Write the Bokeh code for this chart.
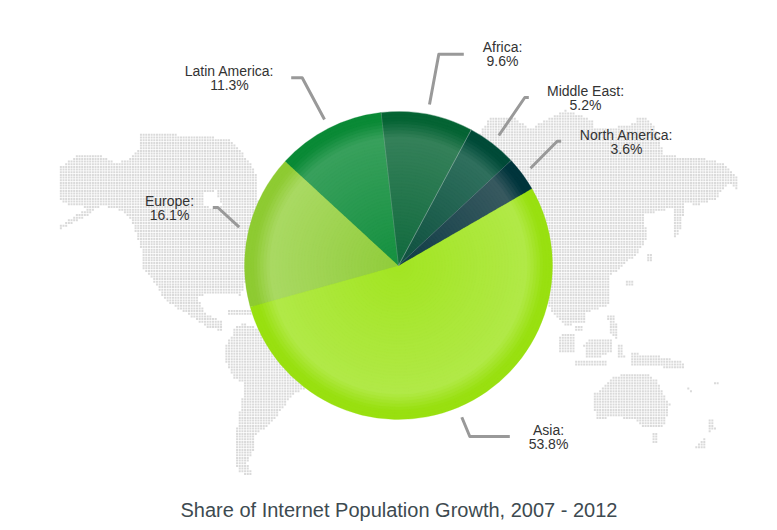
import numpy as np
from bokeh.plotting import figure
from bokeh.models import ColumnDataSource
from bokeh.core.properties import value
from bokeh.embed import file_html
from bokeh.resources import INLINE

# ---- chart values
regions = ["Asia", "Europe", "Latin America", "Africa", "Middle East", "North America"]
shares = [53.8, 16.1, 11.3, 9.6, 5.2, 3.6]
base_colors = ["#a2e521", "#90cc3a", "#14903f", "#116a3e", "#0e503f", "#0f3c46"]
high_colors = ["#b1e947", "#a9d962", "#38a05c", "#348059", "#2f6f5d", "#37595f"]
edge_colors = ["#99e010", "#8ecb32", "#0a8a36", "#056434", "#004b38", "#00353c"]
chart_title = "Share of Internet Population Growth, 2007 - 2012"

# ---- layout (page pixels, y downwards)
PAGE_H = 530
cx, cy, radius = 398, 265, 154
start_deg = 30
label_x = [548, 169, 229, 502, 585, 626]
label_y = [436.5, 207.5, 77.5, 53.5, 97.5, 141.5]
leader_x = [[509.3, 469.3, 461.3], [212.3, 217.3, 238.7], [290.7, 301.7, 324],
            [463.3, 438.3, 429], [528.3, 524.3, 498.3], [560.7, 556.7, 530]]
leader_y = [[436, 436, 416.7], [207, 207, 226.7], [77.3, 77.3, 119],
            [53.7, 53.7, 104], [97, 97, 135], [140.7, 140.7, 167.7]]

# ---- background world map outlines (page pixels)
land = [
    [(59,167),(80,153),(100,155),(117,163),(128,158),(140,147),(139,133),(160,133),(183,135),(227,138),(240,150),
     (255,170),(260,220),(250,270),(240,295),(225,292),(207,292),(197,297),(205,312),(222,322),(222,331),(205,326),
     (193,317),(180,310),(170,303),(160,293),(153,280),(143,270),(140,245),(130,218),(117,208),(100,205),(90,213),
     (60,229),(59,225),(88,207),(70,205),(60,200)],
    [(228,310),(250,309),(250,314),(228,314)],
    [(233,328),(242,323),(258,328),(300,340),(310,385),(302,390),(292,395),(283,407),(275,417),(268,425),(255,435),
     (252,453),(247,463),(253,475),(245,475),(237,470),(234,450),(237,423),(242,397),(243,383),(233,378),(224,357),
     (224,347),(233,333)],
    [(480,130),(490,118),(515,118),(530,128),(545,120),(565,110),(580,115),(592,120),(593,127),(615,127),(633,123),
     (637,118),(647,118),(658,133),(663,153),(683,157),(703,158),(723,163),(738,178),(738,193),(730,183),(723,187),
     (717,198),(697,205),(683,202),(670,208),(643,215),(643,220),(648,235),(637,253),(620,267),(608,277),(608,305),
     (585,312),(585,322),(565,325),(555,315),(547,305),(450,260)],
    [(673,205),(683,203),(682,225),(675,238),(672,236)],
    [(647,252),(653,252),(653,260),(647,260)],
    [(625,280),(632,280),(632,286),(625,286)],
    [(573,326),(583,326),(583,331),(573,331)],
    [(565,332),(573,332),(573,352),(558,352),(558,338)],
    [(607,315),(613,315),(618,330),(616,338),(610,334)],
    [(583,345),(590,338),(613,340),(612,350),(600,357),(586,356)],
    [(575,360),(607,361),(607,365),(575,365)],
    [(617,345),(623,345),(624,357),(618,357)],
    [(630,353),(653,354),(683,362),(683,368),(653,366),(630,365)],
    [(592,395),(608,382),(615,375),(637,373),(648,374),(657,380),(665,397),(670,403),(665,420),(662,427),(643,427),
     (635,420),(613,415),(597,420),(593,405)],
    [(652,433),(658,433),(658,442),(653,442)],
    [(707,418),(712,418),(715,428),(708,434)],
    [(695,445),(703,437),(706,440),(704,447),(696,449)],
    [(687,386),(692,392),(690,393),(686,388)],
    [(713,381),(718,381),(718,383),(713,383)],
]
lakes = [[(203,193),(215,190),(222,205),(212,208),(203,205)]]
DOT_STEP = 2.67


def inside(px, py, poly):
    a = np.array(poly, dtype=float)
    b = np.roll(a, -1, axis=0)
    hit = np.zeros(px.shape, dtype=bool)
    for (x0, y0), (x1, y1) in zip(a, b):
        if y0 == y1:
            continue
        crosses = (y0 > py) != (y1 > py)
        hit ^= crosses & (px < (x1 - x0) * (py - y0) / (y1 - y0) + x0)
    return hit


gx, gy = np.meshgrid(np.arange(55, 745, DOT_STEP), np.arange(105, 480, DOT_STEP))
gx, gy = gx.ravel(), gy.ravel()
mask = np.zeros(gx.shape, dtype=bool)
for poly in land:
    mask |= inside(gx, gy, poly)
for poly in lakes:
    mask &= ~inside(gx, gy, poly)
# keep only dots that the pie does not cover
mask &= (gx - cx) ** 2 + (gy - cy) ** 2 > (radius - 2) ** 2
dots_x, dots_y = gx[mask], PAGE_H - gy[mask]

# ---- figure: one data unit is one page pixel
p = figure(width=769, height=522, frame_width=769, frame_height=491,
           x_range=(0, 769), y_range=(PAGE_H - 491, PAGE_H),
           x_axis_type=None, y_axis_type=None, output_backend="svg",
           toolbar_location=None, min_border=0, outline_line_color=None,
           background_fill_color="white", border_fill_color="white",
           title=chart_title, title_location="below")
p.grid.visible = False
p.title.align = "left"
p.title.offset = 180
p.title.text_font = "Liberation Sans"
p.title.text_font_size = "20px"
p.title.text_font_style = "normal"
p.title.text_color = "#3d4a50"

p.scatter(dots_x, dots_y, marker="square", size=2, fill_color="#dadada", line_color=None)


def hex_rgb(h):
    return np.array([int(h[i:i + 2], 16) for i in (1, 3, 5)], dtype=float)


def ramp(t, c0, c1, c2):
    stops = [0, 0.82, 0.84, 0.95, 1]
    cols = np.array([hex_rgb(c) for c in (c0, c1, c1, c2, c2)])
    rgb = [np.interp(t, stops, cols[:, k]) for k in range(3)]
    return "#%02x%02x%02x" % tuple(int(round(v)) for v in rgb)


# pie: every slice is stacked from the rim inwards to give its radial shading
total = sum(shares)
ends = start_deg - np.cumsum(shares) / total * 360
starts = np.concatenate([[start_deg], ends[:-1]])
rings = np.linspace(1, 0.04, 48)
rows = {"r": [], "a0": [], "a1": [], "c": []}
for t in rings:
    for s, e, c0, c1, c2 in zip(starts, ends, base_colors, high_colors, edge_colors):
        rows["r"].append(radius * t)
        rows["a0"].append(np.radians(e))
        rows["a1"].append(np.radians(s))
        rows["c"].append(ramp(t, c0, c1, c2))
p.wedge(x=cx, y=PAGE_H - cy, radius="r", start_angle="a0", end_angle="a1",
        fill_color="c", line_color="c", line_width=0.3, source=ColumnDataSource(rows))

# thin pale separators around the slices of the darker greens
p.wedge(x=cx, y=PAGE_H - cy, radius=radius, start_angle=np.radians(ends[3:5]), end_angle=np.radians(starts[3:5]),
        fill_color=None, line_color="white", line_alpha=0.25, line_width=0.8)

# leader lines and labels
p.multi_line([list(x) for x in leader_x], [[PAGE_H - v for v in y] for y in leader_y],
             line_color="#999999", line_width=3, line_join="round")
labels = [f"{n}:\n{v}%" for n, v in zip(regions, shares)]
p.text(label_x, [PAGE_H - v for v in label_y], text=labels, text_font=value("Liberation Sans"),
       text_font_size="14px", text_color="#333333", text_align="center", text_baseline="middle",
       text_line_height=0.92)

open("out.html", "w").write(file_html(p, INLINE))
